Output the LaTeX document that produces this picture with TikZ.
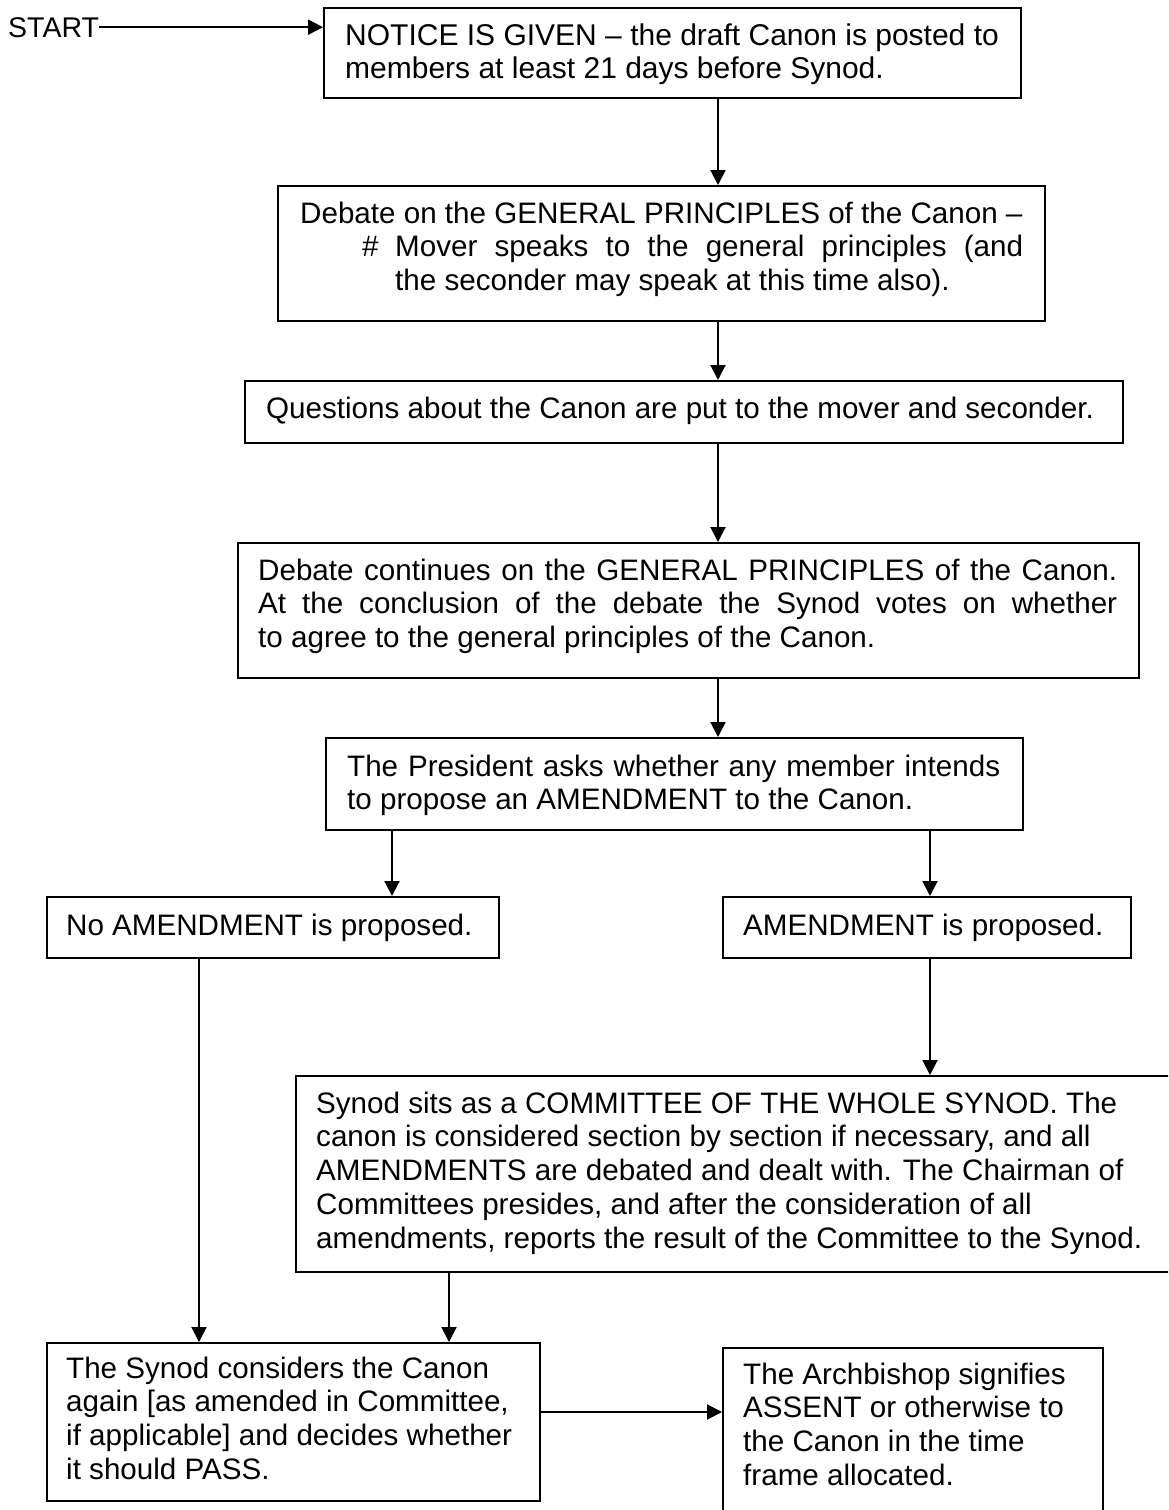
\documentclass[tikz,border=0pt]{standalone}
\usepackage{fontspec}
\setmainfont{Liberation Sans}
\usetikzlibrary{arrows.meta}
\newcommand{\fl}{\rule{0pt}{24pt}}
\newcommand{\boxfont}{\fontsize{29.6}{33.7}\selectfont}
\tikzset{
  box/.style={draw, line width=1.9pt, inner sep=0pt, anchor=north west},
  txt/.style={anchor=north west, inner sep=0pt, align=left, font=\boxfont},
  arr/.style={line width=2pt, -{Triangle[length=15pt,width=15pt]}}
}
\begin{document}
\begin{tikzpicture}[x=1pt,y=-1pt]
\useasboundingbox (0,0) rectangle (1168,1510);
\clip (0,0) rectangle (1168,1510);
\fill[white] (0,0) rectangle (1168,1510);
% columns / rows
\coordinate (cx) at (718,0);
\coordinate (cl) at (392,0);
\coordinate (cr) at (930,0);
\coordinate (cll) at (199,0);
\coordinate (cm) at (449,0);
\coordinate (ry) at (0,1412);
% boxes
\node[box, minimum width=697pt, minimum height=90pt] (notice) at (323,7) {};
\node[box, minimum width=767pt, minimum height=135pt] (gp) at (277,185) {};
\node[box, minimum width=878pt, minimum height=62pt] (quest) at (244,380) {};
\node[box, minimum width=901pt, minimum height=135pt] (dc) at (237,542) {};
\node[box, minimum width=697pt, minimum height=92pt] (pres) at (325,737) {};
\node[box, minimum width=452pt, minimum height=61pt] (noa) at (46,896) {};
\node[box, minimum width=408pt, minimum height=61pt] (ya) at (722,896) {};
\node[box, minimum width=905pt, minimum height=196pt] (ss) at (295,1075) {};
\node[box, minimum width=493pt, minimum height=158pt] (sc) at (46,1342) {};
\node[box, minimum width=380pt, minimum height=193pt] (ab) at (722,1347) {};
% texts
\node[anchor=base west, inner sep=0pt, font=\fontsize{28.5}{33}\selectfont] (start) at (8,37) {START};
\node[txt, font=\fontsize{30}{33.5}\selectfont] (tnotice) at (345,21) {\fl NOTICE IS GIVEN – the draft Canon is posted to\\members at least 21 days before Synod.};
\node[txt] (tgp) at (300,199) {\fl Debate on the GENERAL PRINCIPLES of the Canon –\\\makebox[95pt][l]{\hspace*{62pt}\#}\makebox[628pt][s]{Mover speaks to the general principles (and}\\\hspace*{95pt}the seconder may speak at this time also).};
\node[txt] (tquest) at (266,394) {\fl Questions about the Canon are put to the mover and seconder.};
\node[txt] (tdc) at (258,556) {\fl\makebox[859pt][s]{Debate continues on the GENERAL PRINCIPLES of the Canon.}\\\makebox[859pt][s]{At the conclusion of the debate the Synod votes on whether}\\to agree to the general principles of the Canon.};
\node[txt] (tpres) at (347,752) {\fl\makebox[653pt][s]{The President asks whether any member intends}\\to propose an AMENDMENT to the Canon.};
\node[txt] (tnoa) at (66,911) {\fl No AMENDMENT is proposed.};
\node[txt] (tya) at (743,911) {\fl AMENDMENT is proposed.};
\node[txt] (tss) at (316,1089) {\fl Synod sits as a COMMITTEE OF THE WHOLE SYNOD. The\\canon is considered section by section if necessary, and all\\AMENDMENTS are debated and dealt with. The Chairman of\\Committees presides, and after the consideration of all\\amendments, reports the result of the Committee to the Synod.};
\node[txt] (tsc) at (66,1354) {\fl The Synod considers the Canon\\again [as amended in Committee,\\if applicable] and decides whether\\it should PASS.};
\node[txt] (tab) at (743,1360) {\fl The Archbishop signifies\\ASSENT or otherwise to\\the Canon in the time\\frame allocated.};
% connectors
\draw[arr] (start.east) -- (notice.west |- start.east);
\draw[arr] (notice.south -| cx) -- (gp.north -| cx);
\draw[arr] (gp.south -| cx) -- (quest.north -| cx);
\draw[arr] (quest.south -| cx) -- (dc.north -| cx);
\draw[arr] (dc.south -| cx) -- (pres.north -| cx);
\draw[arr] (pres.south -| cl) -- (noa.north -| cl);
\draw[arr] (pres.south -| cr) -- (ya.north -| cr);
\draw[arr] (noa.south -| cll) -- (sc.north -| cll);
\draw[arr] (ya.south -| cr) -- (ss.north -| cr);
\draw[arr] (ss.south -| cm) -- (sc.north -| cm);
\draw[arr] (sc.east |- ry) -- (ab.west |- ry);
\end{tikzpicture}
\end{document}
